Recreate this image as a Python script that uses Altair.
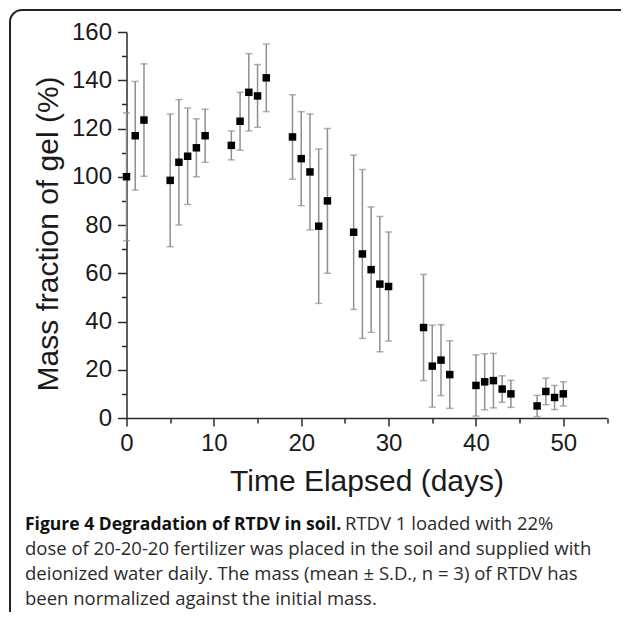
import altair as alt
import pandas as pd

# ---- data ----
days = [0, 1, 2, 5, 6, 7, 8, 9, 12, 13, 14, 15, 16, 19, 20, 21, 22, 23,
        26, 27, 28, 29, 30, 34, 35, 36, 37, 40, 41, 42, 43, 44, 47, 48, 49, 50]
means = [100, 117, 123.5, 98.5, 106, 108.5, 112, 117, 113, 123, 135, 133.5, 141, 116.5, 107.5, 102, 79.5, 90,
         77, 68, 61.5, 55.5, 54.5, 37.5, 21.5, 24, 18, 13.5, 15, 15.5, 12, 10, 5, 11, 8.5, 10]
sds = [26.5, 22.5, 23.3, 27.5, 26, 20, 12, 11, 6, 12, 16, 13, 14, 17.5, 19.5, 24, 32, 30,
       32, 35, 26, 28, 22.6, 22, 17, 14.7, 14, 12.7, 11.6, 11.3, 5.5, 5.6, 4.4, 5.5, 5, 5]

x_major = [0, 10, 20, 30, 40, 50]
x_minor = [5, 15, 25, 35, 45, 55]
y_major = [0, 20, 40, 60, 80, 100, 120, 140, 160]
y_minor = [10, 30, 50, 70, 90, 110, 130, 150]

x_title = "Time Elapsed (days)"
y_title = "Mass fraction of gel (%)"
caption_bold = "Figure 4 Degradation of RTDV in soil."
caption_first = "RTDV 1 loaded with 22%"
caption_rest = [
    "dose of 20-20-20 fertilizer was placed in the soil and supplied with",
    "deionized water daily. The mass (mean \u00b1 S.D., n = 3) of RTDV has",
    "been normalized against the initial mass.",
]

df = pd.DataFrame({"day": days, "mean": means, "sd": sds})
df["lo"] = df["mean"] - df["sd"]
df["hi"] = df["mean"] + df["sd"]

FONT = "Liberation Sans"
AX = "#2a2a2a"
xs = alt.Scale(domain=[0, 55], nice=False, zero=False)
ys = alt.Scale(domain=[0, 160], nice=False)

x_major_axis = alt.Axis(values=x_major, orient="bottom", tickSize=8, tickWidth=1.5, tickColor=AX,
                        domainColor=AX, domainWidth=1.5, labelFont=FONT, labelFontSize=24,
                        labelColor="#1a1a1a", labelPadding=5, labelFlush=False, labelOverlap=False,
                        grid=False, format="d", title=x_title, titleFont=FONT, titleFontSize=30,
                        titleFontWeight="normal", titleColor="#1a1a1a", titleX=240, titleY=72,
                        titleBaseline="alphabetic")
y_major_axis = alt.Axis(values=y_major, orient="left", tickSize=9, tickWidth=1.5, tickColor=AX,
                        domainColor=AX, domainWidth=1.5, labelFont=FONT, labelFontSize=24,
                        labelColor="#1a1a1a", labelPadding=6, labelFlush=False, labelOverlap=False,
                        grid=False, format="d", title=y_title, titleFont=FONT, titleFontSize=30,
                        titleFontWeight="normal", titleColor="#1a1a1a", titleX=-69.5, titleY=201.5,
                        titleBaseline="alphabetic", titleAngle=270)
x_minor_axis = alt.Axis(values=x_minor, orient="bottom", tickSize=5, tickWidth=1.5, tickColor=AX,
                        labels=False, domain=False, grid=False, title=None)
y_minor_axis = alt.Axis(values=y_minor, orient="left", tickSize=5, tickWidth=1.5, tickColor=AX,
                        labels=False, domain=False, grid=False, title=None)

base = alt.Chart(df)

bars = base.mark_rule(color="#8f8f8f", strokeWidth=1.5).encode(
    x=alt.X("day:Q", scale=xs, axis=x_minor_axis),
    y=alt.Y("lo:Q", scale=ys, axis=y_minor_axis),
    y2="hi:Q",
)
caps_hi = base.mark_tick(color="#8f8f8f", thickness=1.5, size=7, orient="horizontal").encode(
    x=alt.X("day:Q", scale=xs, axis=None),
    y=alt.Y("hi:Q", scale=ys, axis=None),
)
caps_lo = base.mark_tick(color="#8f8f8f", thickness=1.5, size=7, orient="horizontal").encode(
    x=alt.X("day:Q", scale=xs, axis=None),
    y=alt.Y("lo:Q", scale=ys, axis=None),
)
points = base.mark_square(size=56, color="black", opacity=1).encode(
    x=alt.X("day:Q", scale=xs, axis=x_major_axis),
    y=alt.Y("mean:Q", scale=ys, axis=y_major_axis),
)

one = pd.DataFrame({"k": [0]})
frame = alt.Chart(one).mark_rect(fillOpacity=0, stroke="#222222", strokeWidth=2,
                                 cornerRadiusTopLeft=12).encode(
    x=alt.value(-116.5), x2=alt.value(520), y=alt.value(-22), y2=alt.value(620)
)

txt_kw = dict(font="Open Sans", fontSize=18.5, align="left", baseline="alphabetic", color="#2b2b2b")
cap_layers = [
    alt.Chart(one).mark_text(text=caption_bold, fontWeight="bold", **{**txt_kw, "fontSize": 17.5,
                                                                        "color": "#111111"}).encode(
        x=alt.value(-101.5), y=alt.value(498)),
    alt.Chart(one).mark_text(text=caption_first, **txt_kw).encode(x=alt.value(218.5), y=alt.value(498)),
]
for i, line in enumerate(caption_rest):
    cap_layers.append(
        alt.Chart(one).mark_text(text=line, **txt_kw).encode(
            x=alt.value(-101.5), y=alt.value(523 + 24.8 * i))
    )

chart = alt.layer(frame, bars, caps_hi, caps_lo, points, *cap_layers).resolve_axis(
    x="independent", y="independent"
).properties(
    width=480.5, height=386,
    padding={"left": 118.5, "top": 24, "right": 14, "bottom": 194},
    autosize=alt.AutoSizeParams(type="none"),
    background="white",
).configure_view(stroke=None)

chart.save("out.html", embed_options={"renderer": "svg", "actions": False})
